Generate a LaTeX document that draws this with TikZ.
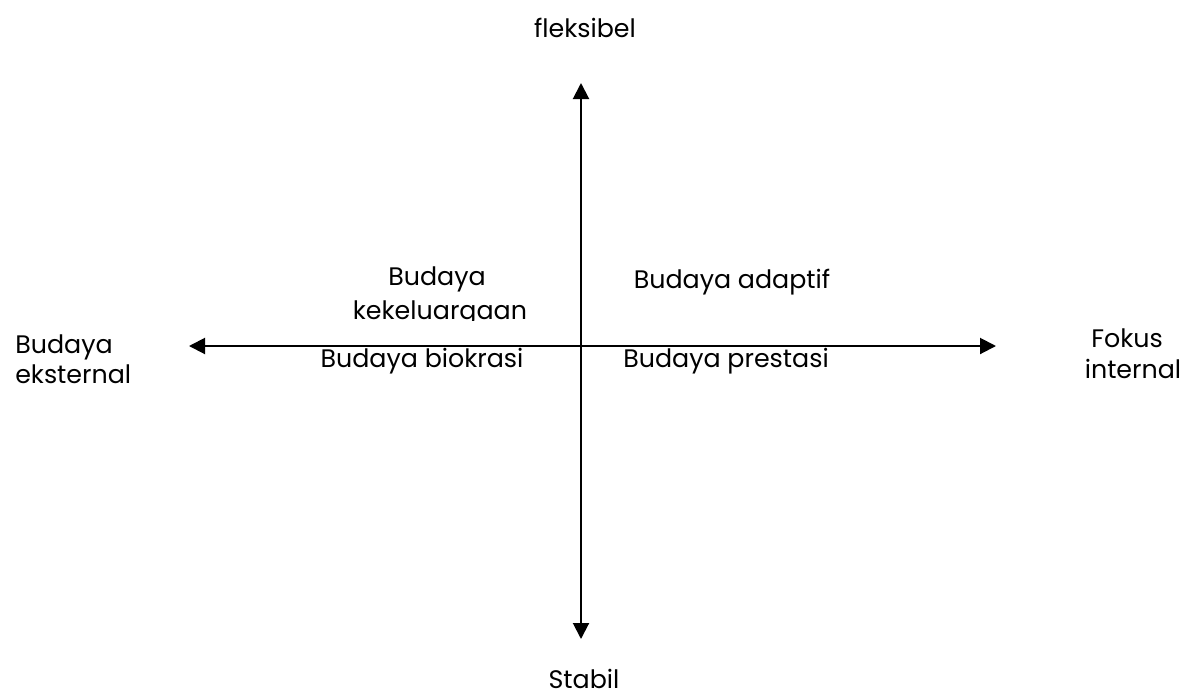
\documentclass[tikz,border=0pt]{standalone}
\usepackage{fontspec}
\setmainfont{Poppins}
\usetikzlibrary{arrows.meta}
\tikzset{
  axis/.style={line width=1.5pt, {Triangle[length=12pt,width=12pt]}-{Triangle[length=12pt,width=12pt]}},
  lbl/.style={inner sep=0pt, font=\fontsize{19}{23}\selectfont},
}
\begin{document}
\begin{tikzpicture}[x=0.75pt,y=-0.75pt]
  \useasboundingbox (0,0) rectangle (1182,697);
  % axis end points
  \coordinate (top) at (581,83);
  \coordinate (bottom) at (581,639);
  \coordinate (left) at (189,346);
  \coordinate (right) at (996,346);
  \draw[axis] (top) -- (bottom);
  \draw[axis] (left) -- (right);
  % axis captions
  \node[lbl, anchor=base, text depth=0pt] (flex) at (585,37) {fleksibel};
  \node[lbl, anchor=base, text depth=0pt] (stab) at (584,688) {Stabil};
  \node[lbl, anchor=base west] (ext1) at (15,353) {Budaya};
  \node[lbl, anchor=base west] (ext2) at (15,383) {eksternal};
  \node[lbl, anchor=base] (int1) at (1127,347) {Fokus};
  \node[lbl, anchor=base] (int2) at (1133,378) {internal};
  % quadrant labels
  \begin{scope}
    \clip (300,240) rectangle (560,320);
    \node[lbl, anchor=base] (kel1) at (437,285) {Budaya};
    \node[lbl, anchor=base] (kel2) at (440,319) {kekeluargaan};
  \end{scope}
  \node[lbl, anchor=base] (adp) at (732,288) {Budaya adaptif};
  \node[lbl, anchor=base] (bio) at (422,367) {Budaya biokrasi};
  \node[lbl, anchor=base] (pre) at (726,367) {Budaya prestasi};
\end{tikzpicture}
\end{document}
